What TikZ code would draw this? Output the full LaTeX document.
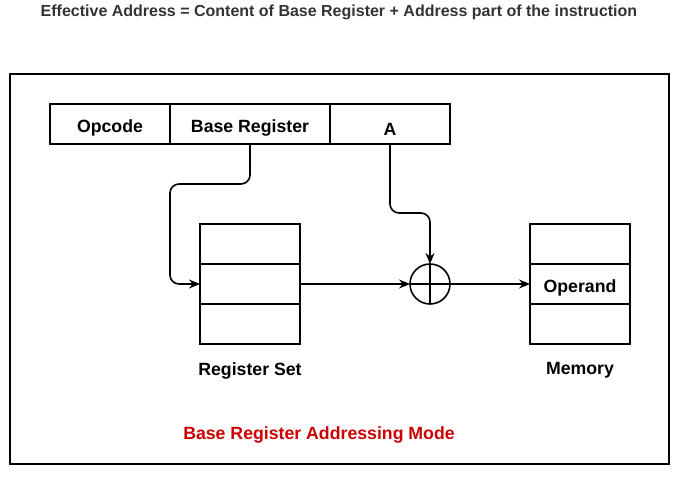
\documentclass[tikz,border=0pt]{standalone}
\usepackage{fontspec}
\setmainfont{Liberation Sans}
\usetikzlibrary{positioning,arrows.meta}
\definecolor{titlegray}{HTML}{333333}
\definecolor{modered}{HTML}{CC0000}

\begin{document}
\begin{tikzpicture}[
  x=1pt,y=-1pt,
  line width=1.6pt,
  every node/.style={font=\fontsize{17.7}{20}\selectfont\bfseries},
  field/.style={rectangle,draw,minimum height=40pt,inner sep=0,outer sep=0,text height=17pt,text depth=0pt},
  cell/.style={field,minimum width=100pt},
  adder/.style={circle,draw,minimum size=40pt,inner sep=0,outer sep=0},
  arr/.style={-{Stealth[length=11pt,width=9pt]},rounded corners=9pt},
]
  \useasboundingbox (0,0) rectangle (677,478);
  \node[text=titlegray,font=\fontsize{16}{19}\selectfont\bfseries] (title) at (339,12)
    {Effective Address = Content of Base Register + Address part of the instruction};
  \draw (10,74) rectangle (669,464);
  % instruction format
  \node[field,minimum width=120pt] (opcode) at (110,124) {Opcode};
  \node[field,minimum width=160pt,right=0pt of opcode] (breg) {Base Register};
  \node[field,minimum width=120pt,right=0pt of breg,text height=24pt] (aval) {A};
  % register set
  \node[cell] (reg1) at (250,244) {};
  \node[cell,below=0pt of reg1] (reg2) {};
  \node[cell,below=0pt of reg2] (reg3) {};
  \node (regset) at (250,370.5) {Register Set};
  % adder
  \node[adder] (add) at (430,284) {};
  \draw (add.north) -- (add.south) (add.west) -- (add.east);
  % memory
  \node[cell] (mem1) at (580,244) {};
  \node[cell,below=0pt of mem1] (mem2) {Operand};
  \node[cell,below=0pt of mem2] (mem3) {};
  \node (memory) at (580,370.5) {Memory};
  \node[text=modered] (mode) at (319,434.5) {Base Register Addressing Mode};
  % connectors
  \draw[arr] (breg.south) |- (170,184) |- (reg2.west);
  \draw[arr] (aval.south) |- (430,213) -- (add.north);
  \draw[arr] (reg2.east) -- (add.west);
  \draw[arr] (add.east) -- (mem2.west);
\end{tikzpicture}
\end{document}
